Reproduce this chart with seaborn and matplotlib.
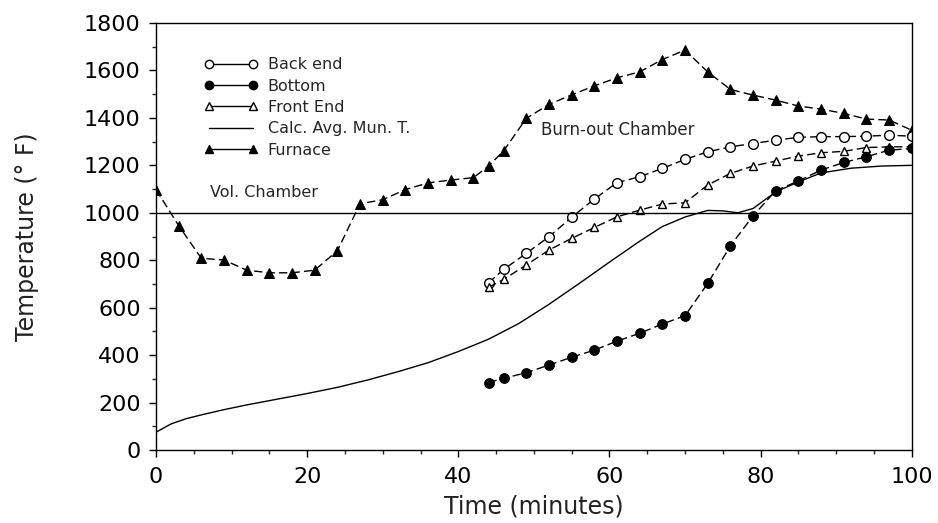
import matplotlib
matplotlib.use("Agg")
import matplotlib.pyplot as plt
import seaborn as sns
import numpy as np
from matplotlib.lines import Line2D
from matplotlib.ticker import MultipleLocator

# Furnace
furnace_x = [0, 3, 6, 9, 12, 15, 18, 21, 24, 27, 30, 33, 36, 39, 42, 44, 46, 49, 52, 55, 58, 61, 64, 67, 70, 73, 76, 79, 82, 85, 88, 91, 94, 97, 100]
furnace_y = [1098, 946, 808, 801, 758, 747, 747, 758, 840, 1038, 1055, 1098, 1126, 1138, 1148, 1197, 1261, 1398, 1457, 1497, 1535, 1569, 1594, 1646, 1686, 1594, 1520, 1496, 1475, 1450, 1437, 1419, 1395, 1391, 1348]

probe_x = [44, 46, 49, 52, 55, 58, 61, 64, 67, 70, 73, 76, 79, 82, 85, 88, 91, 94, 97, 100]
back_y = [705, 761, 829, 899, 981, 1058, 1127, 1152, 1187, 1225, 1257, 1278, 1292, 1306, 1318, 1321, 1321, 1323, 1327, 1323]
front_y = [686, 719, 780, 843, 892, 938, 983, 1011, 1037, 1042, 1117, 1166, 1197, 1218, 1239, 1253, 1259, 1275, 1278, 1278]
bottom_y = [284, 302, 326, 358, 391, 421, 459, 492, 531, 566, 702, 860, 987, 1093, 1134, 1180, 1212, 1236, 1264, 1271]

calc_x = [0, 2, 4, 6, 9, 12, 15, 20, 24, 28, 32, 36, 40, 44, 48, 52, 56, 60, 64, 67, 70, 73, 75, 77, 79, 82, 85, 88, 92, 96, 100]
calc_y = [75, 110, 132, 148, 170, 190, 208, 238, 264, 295, 330, 368, 415, 467, 533, 614, 702, 792, 880, 942, 982, 1010, 1008, 1000, 1018, 1088, 1130, 1168, 1188, 1197, 1200]

ref_level = 1000

sns.set_style("ticks")
plt.rcParams['font.family'] = ['DejaVu Sans']

fig = plt.figure(figsize=(9.38, 5.23), dpi=100)
ax = fig.add_axes([0.1663, 0.1396, 0.972 - 0.1663, 0.956 - 0.1396])

dash = (0, (6, 3))
ms = 7

sns.lineplot(x=furnace_x, y=furnace_y, ax=ax, color='black', linewidth=1.0,
             linestyle=dash, marker='^', markersize=ms, markerfacecolor='black',
             markeredgecolor='black', sort=False)
sns.lineplot(x=probe_x, y=back_y, ax=ax, color='black', linewidth=1.0,
             linestyle=dash, marker='o', markersize=ms, markerfacecolor='white',
             markeredgecolor='black', markeredgewidth=1.0, sort=False)
sns.lineplot(x=probe_x, y=front_y, ax=ax, color='black', linewidth=1.0,
             linestyle=dash, marker='^', markersize=ms - 1, markerfacecolor='white',
             markeredgecolor='black', markeredgewidth=1.0, sort=False)
sns.lineplot(x=probe_x, y=bottom_y, ax=ax, color='black', linewidth=1.0,
             linestyle=dash, marker='o', markersize=ms, markerfacecolor='black',
             markeredgecolor='black', sort=False)
sns.lineplot(x=calc_x, y=calc_y, ax=ax, color='black', linewidth=1.0, sort=False)
ax.axhline(ref_level, color='black', linewidth=1.0)

ax.set_xlim(0, 100)
ax.set_ylim(0, 1800)
ax.xaxis.set_major_locator(MultipleLocator(20))
ax.xaxis.set_minor_locator(MultipleLocator(5))
ax.yaxis.set_major_locator(MultipleLocator(200))
ax.yaxis.set_minor_locator(MultipleLocator(100))
ax.tick_params(axis='both', which='major', direction='out', length=5, width=1,
               labelsize=16, colors='black')
ax.tick_params(axis='y', which='major', pad=6)
ax.tick_params(axis='x', which='major', pad=7)
ax.tick_params(axis='both', which='minor', direction='out', length=3, width=1)
for s in ax.spines.values():
    s.set_color('black')
    s.set_linewidth(1.0)

ax.set_xlabel("Time (minutes)", fontsize=17, color='#222222', labelpad=6)
ax.set_ylabel("Temperature (° F)", fontsize=17, color='#222222', labelpad=32)

ax.text(7.2, 1087, "Vol. Chamber", fontsize=11.5, va='center', ha='left')
ax.text(51, 1351, "Burn-out Chamber", fontsize=12, va='center', ha='left')

handles = [
    Line2D([], [], color='black', lw=1, marker='o', markersize=6, markerfacecolor='white', markeredgecolor='black'),
    Line2D([], [], color='black', lw=1, marker='o', markersize=6, markerfacecolor='black', markeredgecolor='black'),
    Line2D([], [], color='black', lw=1, marker='^', markersize=6, markerfacecolor='white', markeredgecolor='black'),
    Line2D([], [], color='black', lw=1),
    Line2D([], [], color='black', lw=1, marker='^', markersize=6, markerfacecolor='black', markeredgecolor='black'),
]
labels = ["Back end", "Bottom", "Front End", "Calc. Avg. Mun. T.", "Furnace"]
ax.legend(handles, labels, loc='upper left', bbox_to_anchor=(0.055, 0.935),
          frameon=False, fontsize=11.5, numpoints=2, handlelength=3.4,
          labelspacing=0.4, handletextpad=0.6, borderaxespad=0)

fig.savefig("out.png", dpi=100)
